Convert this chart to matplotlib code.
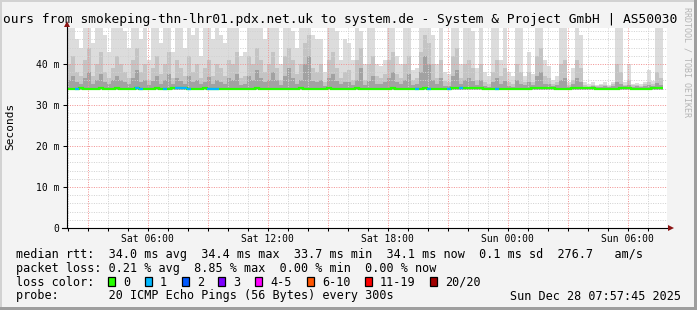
import matplotlib
matplotlib.use("Agg")
import matplotlib.pyplot as plt
from matplotlib.patches import Rectangle
import numpy as np

plt.rcParams["font.family"] = ["DejaVu Sans Mono"]

W, H, DPI = 697, 310, 100

# ---------------- text content ----------------
title = "ours from smokeping-thn-lhr01.pdx.net.uk to system.de - System & Project GmbH | AS50030"
y_label = "Seconds"
watermark = "RRDTOOL / TOBI OETIKER"
x_tick_hours = [4.0375, 10.0375, 16.0375, 22.0375, 28.0375]   # hours after Sat 01:57:45
x_tick_labels = ["Sat 06:00", "Sat 12:00", "Sat 18:00", "Sun 00:00", "Sun 06:00"]
y_tick_values = [0, 10, 20, 30, 40]
y_tick_labels = ["0", "10 m", "20 m", "30 m", "40 m"]

legend_rtt = "median rtt:  34.0 ms avg  34.4 ms max  33.7 ms min  34.1 ms now  0.1 ms sd  276.7   am/s"
legend_loss = "packet loss: 0.21 % avg  8.85 % max  0.00 % min  0.00 % now"
legend_color_title = "loss color:"
legend_probe = "probe:       20 ICMP Echo Pings (56 Bytes) every 300s"
legend_date = "Sun Dec 28 07:57:45 2025"
loss_labels = ["0", "1", "2", "3", "4-5", "6-10", "11-19", "20/20"]
loss_colors = ["#26ff00", "#00b8ff", "#0059ff", "#7e00ff", "#ff00ff", "#ff5500", "#ff0000", "#a10000"]

# ---------------- data (ms), one value per 12-minute step ----------------
step_hours = 0.2
smoke_max = [
    50, 50, 46, 44, 50, 50, 45, 50, 50, 47,
    43, 50, 50, 50, 48, 44, 50, 50, 46, 50,
    41, 50, 50, 45, 50, 50, 43, 50, 50, 44,
    50, 47, 50, 42, 50, 50, 46, 50,
    47, 45, 50, 49, 50, 42, 43, 50, 50, 50,
    50, 46, 50, 50, 50, 40, 50, 50, 48, 44,
    50, 50, 50, 47, 46, 46, 38, 50, 50, 48,
    41, 46, 45, 41, 50, 48, 40, 50,
    50, 40, 39.5, 41, 50, 50, 42, 40, 50, 49,
    38.5, 39, 50, 50, 50, 47, 40, 50, 38, 37.5,
    50, 50, 40, 50, 50, 48, 39, 50, 38, 37,
    50, 49, 41, 50, 38, 37, 50, 50,
    37, 43, 37.5, 50, 50, 41, 39.5, 36, 37, 50,
    49, 35.5, 39, 50, 47, 35.5, 35, 35.5, 34.8, 35.2,
    35.5, 34.8, 35.6, 50, 50, 35.5, 40, 35.2, 35.4, 35,
    35.5, 38.6, 35.8, 50, 50,
]
smoke_hi = [
    40, 42, 38, 37, 41, 44, 37, 40, 43, 38,
    36.5, 39, 42, 40, 38, 36.5, 41, 44, 38, 40,
    36, 39, 42, 37.5, 40, 43, 36.5, 41, 39, 37,
    42, 38, 40, 36.5, 39, 41, 37, 40,
    39, 37, 41, 40, 43, 36.5, 37, 42, 40, 44,
    41, 38, 40, 43, 39, 36, 42, 44, 41, 37.5,
    40, 45, 47, 39, 38, 40, 35.5, 41, 43, 39,
    36.5, 38, 38.5, 36, 41, 44, 36, 40,
    42, 37, 36.5, 37.5, 41, 43, 37.5, 36.5, 40, 42,
    36, 36.5, 43, 47, 45, 40, 36.5, 41, 35.8, 35.5,
    42, 44, 36.5, 40, 41, 39, 36, 40, 35.5, 35.2,
    38, 41, 37, 39, 35.5, 35.2, 40, 38,
    35.5, 38, 35.5, 42, 44, 37, 36.5, 35, 35.5, 40,
    41, 34.8, 36, 41, 39, 34.8, 34.7, 34.9, 34.6, 34.8,
    34.9, 34.6, 35, 40, 38, 34.9, 36, 34.8, 34.9, 34.7,
    35, 35.5, 35.1, 38, 36.5,
]
smoke_mid = [
    36, 37, 35.5, 35, 36.5, 38, 35.2, 36, 37.5, 35.5,
    35, 36, 37, 36.2, 35.5, 35, 36.5, 38.5, 35.5, 36,
    34.8, 35.8, 37, 35.2, 36, 37.5, 35, 36.5, 35.8, 35.2,
    37, 35.5, 36, 35, 35.6, 36.8, 35.2, 36,
    35.5, 35, 36.5, 36, 37.5, 34.8, 35, 37, 36, 38.5,
    36.5, 35.5, 36, 38, 36, 34.8, 37, 39, 36.5, 35.2,
    36, 40, 42, 35.8, 35.5, 36, 34.6, 36.5, 37.5, 35.8,
    35, 35.5, 35.6, 34.8, 36.2, 39, 34.8, 35.8,
    37, 35.2, 35, 35.5, 36.5, 38, 35.5, 35, 36, 37.5,
    34.8, 35, 38, 42, 40, 36, 35, 36.5, 34.7, 34.6,
    37, 38.5, 35, 36, 36.5, 35.8, 34.8, 36, 34.6, 34.5,
    35.5, 36.5, 35.2, 35.8, 34.6, 34.5, 36, 35.2,
    34.8, 35.5, 34.8, 37, 38, 35.2, 35, 34.6, 34.8, 36,
    36.5, 34.5, 35, 36.5, 35.5, 34.5, 34.5, 34.6, 34.4, 34.5,
    34.6, 34.4, 34.6, 35.5, 35, 34.6, 34.9, 34.5, 34.6, 34.5,
    34.6, 34.8, 34.6, 35.3, 34.9,
]
median_ms = [
    34.0, 33.9, 34.0, 34.1, 34.0, 33.9, 33.9, 34.0, 34.1, 34.0,
    33.9, 34.0, 34.1, 34.0, 34.0, 33.9, 34.0, 34.1, 34.0, 33.9,
    34.0, 34.0, 34.1, 34.0, 33.9, 34.0, 34.1, 34.2, 34.2, 34.1,
    34.0, 34.0, 33.9, 34.0, 34.1, 34.0, 33.9, 34.0,
    34.0, 33.9, 33.9, 34.0, 34.0, 34.0, 33.9, 34.0, 34.0, 34.1,
    34.0, 34.0, 33.9, 33.9, 34.0, 34.0, 34.0, 33.9, 34.0, 34.0,
    34.1, 34.0, 34.0, 33.9, 34.0, 34.0, 34.0, 34.1, 34.0, 34.0,
    33.9, 34.0, 34.0, 34.0, 34.1, 34.0, 34.0, 33.9,
    34.0, 34.0, 33.9, 34.0, 34.0, 34.1, 34.0, 33.9, 34.0, 34.0,
    34.0, 33.9, 34.0, 34.1, 34.0, 34.0, 33.9, 34.0, 34.0, 33.9,
    34.2, 34.2, 34.1, 34.2, 34.2, 34.2, 34.1, 34.2, 34.0, 34.0,
    33.9, 34.0, 34.0, 34.0, 33.9, 34.0, 34.0, 34.0,
    33.9, 33.9, 34.2, 34.2, 34.2, 34.2, 34.2, 34.2, 33.9, 33.9,
    33.9, 33.9, 34.1, 34.1, 34.1, 34.1, 34.1, 34.1, 33.9, 33.9,
    33.9, 33.9, 34.0, 34.0, 34.1, 34.1, 34.1, 33.9, 33.9, 33.9,
    33.9, 33.9, 34.1, 34.1, 34.1,
]
smoke_min_ms = 33.7
loss_steps = [2, 17, 18, 24, 27, 28, 29, 30, 35, 36, 37, 87, 90, 95, 98, 107]
loss_pings = [1, 1, 1, 1, 1, 1, 1, 1, 1, 1, 1, 1, 1, 1, 1, 1]

# ---------------- figure ----------------
fig = plt.figure(figsize=(W / DPI, H / DPI), dpi=DPI, facecolor="#F3F3F3")
ax = fig.add_axes([67 / W, 1 - 228 / H, 600 / W, 200 / H])
ax.set_facecolor("white")
ax.set_xlim(0, 30)
ax.set_ylim(0, 200 / 4.1)

n = len(smoke_max)
edges = np.arange(n + 1) * step_hours
ax.stairs(smoke_max, edges, baseline=smoke_min_ms, fill=True, color="#DCDCDC", lw=0, zorder=1)
ax.stairs(smoke_hi, edges, baseline=smoke_min_ms, fill=True, color="#C4C4C4", lw=0, zorder=1.2)
ax.stairs(smoke_mid, edges, baseline=smoke_min_ms, fill=True, color="#A2A2A2", lw=0, zorder=1.4)

# grid (drawn over the smoke, as rrdtool does)
grid_dots = (0, (1, 1.4))
for k in range(30):
    h = 0.0375 + k
    major = (k % 3 == 1)
    ax.axvline(h, color="#F29494" if major else "#D2D2D2", lw=0.72, ls=grid_dots, zorder=3)
for v in range(2, 49, 2):
    major = (v % 10 == 0)
    ax.axhline(v, color="#F29494" if major else "#D2D2D2", lw=0.72, ls=grid_dots, zorder=3)

# median line coloured by loss
ax.stairs(median_ms, edges, baseline=None, color=loss_colors[0], lw=1.6, zorder=4)
for i, lp in zip(loss_steps, loss_pings):
    ax.hlines(median_ms[i], edges[i], edges[i + 1], color=loss_colors[lp], lw=1.6, zorder=5)

# axes and ticks
for s in ax.spines.values():
    s.set_visible(False)
ax.set_xticks(x_tick_hours, x_tick_labels)
ax.set_xticks([0.0375 + k for k in range(30)], minor=True)
ax.tick_params(axis="x", which="both", direction="out", length=2.5, width=0.75,
               color="black", pad=1.5, labelsize=7)
ax.set_yticks(y_tick_values, y_tick_labels)
ax.tick_params(axis="y", which="major", direction="out", length=3, width=0.75,
               color="black", pad=2.4, labelsize=7)
ax.plot([0, 0], [0, (228 - 26) / 200], transform=ax.transAxes, color="black", lw=0.8,
        clip_on=False, zorder=6)
ax.plot([-5 / 600, (668 - 67) / 600], [0, 0], transform=ax.transAxes, color="black", lw=0.8,
        clip_on=False, zorder=6)
ax.plot([0], [(228 - 23.5) / 200], marker="^", ms=4.2, color="#8B1414", mew=0,
        transform=ax.transAxes, clip_on=False, zorder=7)
ax.plot([(670.5 - 67) / 600], [0], marker=">", ms=4.2, color="#8B1414", mew=0,
        transform=ax.transAxes, clip_on=False, zorder=7)

# ---------------- overlay in pixel coordinates ----------------
ov = fig.add_axes([0, 0, 1, 1], zorder=10)
ov.set_xlim(0, W)
ov.set_ylim(H, 0)
ov.axis("off")

ov.text(687, 62, watermark, rotation=270, ha="center", va="center", fontsize=6, color="#B4B4B4")
ov.text(3, 23.5, title, ha="left", va="baseline", fontsize=9.3, color="black")
ov.text(10.5, 126.5, y_label, rotation=90, ha="center", va="center", fontsize=8)

lx = 16
ov.text(lx, 258.3, legend_rtt, ha="left", va="baseline", fontsize=8.5)
ov.text(lx, 272.0, legend_loss, ha="left", va="baseline", fontsize=8.5)
ov.text(lx, 285.8, legend_color_title, ha="left", va="baseline", fontsize=8.5)
ov.text(lx, 299.5, legend_probe, ha="left", va="baseline", fontsize=8.5)
ov.text(681, 299.5, legend_date, ha="right", va="baseline", fontsize=8.5)

label_x = [123, 160, 197, 233, 270, 322, 380, 445]
for x, lab, col in zip(label_x, loss_labels, loss_colors):
    ov.add_patch(Rectangle((x - 15, 277.3), 7.3, 8.2, facecolor=col, edgecolor="black", lw=0.9))
    ov.text(x, 285.8, lab, ha="left", va="baseline", fontsize=8.5)

# 3D frame
ov.add_patch(Rectangle((0, 0), W, 2, facecolor="#D2D2D2", lw=0))
ov.add_patch(Rectangle((0, 0), 2, H, facecolor="#D2D2D2", lw=0))
ov.add_patch(Rectangle((0, H - 3), W, 3, facecolor="#9E9E9E", lw=0))
ov.add_patch(Rectangle((W - 3, 0), 3, H, facecolor="#9E9E9E", lw=0))

fig.savefig("out.png", dpi=DPI, facecolor=fig.get_facecolor())
